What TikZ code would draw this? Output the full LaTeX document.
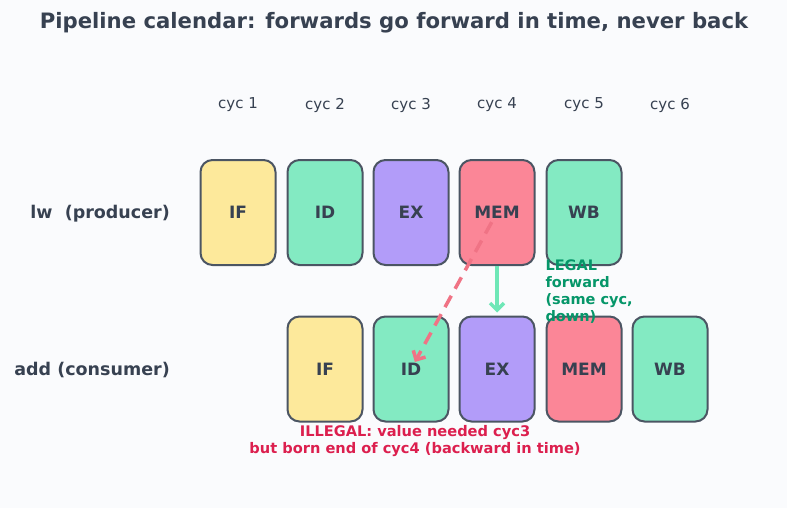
\documentclass[tikz,border=0pt]{standalone}
\usepackage{fontspec}
\setmainfont{DejaVu Sans}
\usetikzlibrary{arrows.meta}
\definecolor{bg}{HTML}{FAFBFD}
\definecolor{ink}{HTML}{374151}
\definecolor{edge}{HTML}{4B5563}
\definecolor{cIF}{HTML}{FDE99B}
\definecolor{cID}{HTML}{83EAC2}
\definecolor{cEX}{HTML}{B29CF9}
\definecolor{cMEM}{HTML}{FB8697}
\definecolor{legal}{HTML}{6EE7B7}
\definecolor{legaltxt}{HTML}{059669}
\definecolor{illegal}{HTML}{F07385}
\definecolor{illegaltxt}{HTML}{DC1F4E}
\tikzset{
  stage/.style={draw=edge, line width=2pt, rounded corners=12pt,
    minimum width=75pt, minimum height=105pt,
    font=\fontsize{17}{20}\selectfont\bfseries, text=ink},
  cyclabel/.style={font=\fontsize{15}{18}\selectfont, text=ink},
  rowlabel/.style={anchor=east, inner sep=0pt, font=\fontsize{17.5}{20}\selectfont\bfseries, text=ink},
  legalarrow/.style={legal, line width=3.5pt, -{Straight Barb[length=7pt,width=14pt]}},
  illegalarrow/.style={illegal, line width=3.5pt, dash pattern=on 13pt off 8pt,
    -{Straight Barb[length=7pt,width=14pt]}}
}

\begin{document}
\begin{tikzpicture}[x=1pt,y=-1pt]
  \fill[bg] (0,0) rectangle (787,508);
  \useasboundingbox (0,0) rectangle (787,508);

  \node[font=\fontsize{21.2}{25}\selectfont\bfseries, text=ink] (title) at (394,23)
    {Pipeline calendar: forwards go forward in time, never back};

  % cycle headings
  \foreach \n/\x in {1/238,2/325,3/411,4/497,5/584,6/670}
    \node[cyclabel] (cyc\n) at (\x,105) {cyc \n};

  % producer
  \node[rowlabel] (lw) at (170,213.5) {lw\ \ (producer)};
  \node[stage, fill=cIF] (lwIF) at (238,212.5) {IF};
  \node[stage, fill=cID] (lwID) at (325,212.5) {ID};
  \node[stage, fill=cEX] (lwEX) at (411,212.5) {EX};
  \node[stage, fill=cMEM] (lwMEM) at (497,212.5) {MEM};
  \node[stage, fill=cID] (lwWB) at (584,212.5) {WB};

  % consumer
  \node[rowlabel] (add) at (170,370.5) {add (consumer)};
  \node[stage, fill=cIF] (addIF) at (325,369) {IF};
  \node[stage, fill=cID] (addID) at (411,369) {ID};
  \node[stage, fill=cEX] (addEX) at (497,369) {EX};
  \node[stage, fill=cMEM] (addMEM) at (584,369) {MEM};
  \node[stage, fill=cID] (addWB) at (670,369) {WB};

  % forwards
  \draw[illegalarrow, shorten <=11pt, shorten >=8pt] (lwMEM.center) -- (addID.center);
  \draw[legalarrow, shorten >=3pt] (lwMEM.south) -- (addEX.north);

  \node[anchor=north west, align=left, text=legaltxt,
    font=\fontsize{14.5}{17}\selectfont\bfseries] (legalnote) at (542,256)
    {LEGAL\\forward\\(same cyc,\\down)};
  \node[align=center, text=illegaltxt,
    font=\fontsize{14.6}{17}\selectfont\bfseries] (illegalnote) at (415,441.5)
    {ILLEGAL: value needed cyc3\\but born end of cyc4 (backward in time)};
\end{tikzpicture}
\end{document}
